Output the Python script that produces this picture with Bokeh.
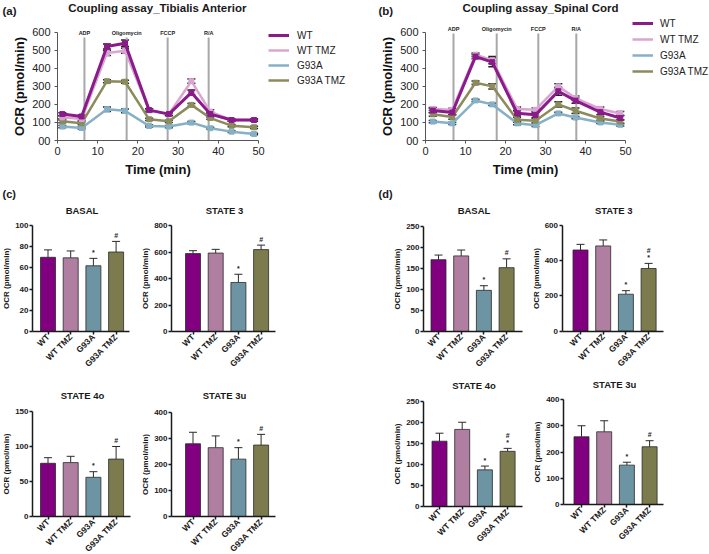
from math import pi
from bokeh.plotting import figure
from bokeh.models import (ColumnDataSource, Whisker, TeeHead, Label, LabelSet,
                          Legend, LegendItem, FixedTicker)
from bokeh.layouts import row, column
from bokeh.embed import file_html
from bokeh.resources import INLINE
from bokeh.core.properties import value

FONT = "Liberation Sans"

# ---------------- data ----------------
groups = ["WT", "WT TMZ", "G93A", "G93A TMZ"]
line_colors = ["#8B1A8B", "#D9A6D2", "#85B0C6", "#8B8B5C"]
bar_colors = ["#800080", "#B07EA0", "#6C94A2", "#7C7B4E"]

inj_labels = ["ADP", "Oligomycin", "FCCP", "R/A"]
x_ticks_line = [0, 10, 20, 30, 40, 50]
y_ticks_line = [0, 100, 200, 300, 400, 500, 600]

# (a) Tibialis Anterior
time_a = [1.2, 6.0, 12.3, 16.8, 22.8, 27.7, 33.3, 38.0, 43.3, 48.9]
inj_a = [6.7, 17.2, 27.4, 37.6]
ta_wt = [146, 133, 520, 538, 168, 146, 265, 146, 113, 113]
ta_wt_err = [8, 8, 14, 18, 8, 8, 14, 10, 6, 6]
ta_wttmz = [128, 119, 484, 496, 168, 146, 328, 160, 113, 113]
ta_wttmz_err = [8, 8, 14, 14, 8, 8, 12, 10, 6, 6]
ta_g93a = [77, 69, 173, 164, 80, 77, 99, 68, 49, 36]
ta_g93a_err = [6, 6, 12, 10, 6, 6, 6, 5, 5, 4]
ta_g93atmz = [106, 95, 328, 325, 117, 106, 197, 124, 82, 73]
ta_g93atmz_err = [8, 8, 8, 8, 6, 6, 8, 6, 6, 6]

# (b) Spinal Cord
time_b = [1.8, 6.7, 12.5, 16.7, 22.9, 27.5, 33.2, 37.5, 43.7, 48.7]
inj_b = [7.0, 17.8, 28.2, 37.7]
tb_wt = [166, 155, 465, 434, 151, 142, 273, 221, 157, 125]
tb_wt_err = [12, 12, 12, 25, 15, 15, 22, 15, 15, 12]
tb_wttmz = [175, 170, 475, 445, 175, 170, 300, 235, 175, 150]
tb_wttmz_err = [8, 8, 10, 20, 10, 10, 15, 12, 10, 10]
tb_g93a = [105, 95, 222, 200, 95, 85, 150, 127, 100, 87]
tb_g93a_err = [6, 6, 6, 6, 8, 8, 6, 6, 6, 6]
tb_g93atmz = [145, 130, 320, 300, 115, 110, 200, 165, 122, 105]
tb_g93atmz_err = [10, 12, 10, 15, 12, 12, 15, 15, 10, 10]

# (c) Tibialis Anterior bars
c_basal = [70, 69.5, 62, 75]
c_basal_err = [7, 6.5, 7, 10]
c_basal_sig = ["", "", "*", "#"]
c_state3 = [588, 592, 370, 618]
c_state3_err = [22, 28, 62, 34]
c_state3_sig = ["", "", "*", "#"]
c_state4o = [76, 77, 56, 82]
c_state4o_err = [8, 9, 8, 18]
c_state4o_sig = ["", "", "*", "#"]
c_state3u = [279, 264, 220, 274]
c_state3u_err = [44, 45, 44, 41]
c_state3u_sig = ["", "", "*", "#"]

# (d) Spinal Cord bars
d_basal = [171, 180, 98, 152]
d_basal_err = [11, 14, 11, 21]
d_basal_sig = ["", "", "*", "#"]
d_state3 = [461, 484, 210, 356]
d_state3_err = [32, 34, 20, 29]
d_state3_sig = ["", "", "*", "*#"]
d_state4o = [155, 183, 87, 131]
d_state4o_err = [19, 17, 9, 7]
d_state4o_sig = ["", "", "*", "*#"]
d_state3u = [258, 277, 150, 220]
d_state3u_err = [42, 42, 11, 23]
d_state3u_sig = ["", "", "*", "#"]


# ---------------- helpers ----------------
class Geo:
    """Linear map between canvas pixels (from top-left) and data values."""

    def __init__(self, W, H, pxa, xa, pxb, xb, pya, ya, pyb, yb):
        self.W, self.H = W, H
        self.pxa, self.xa, self.pya, self.ya = pxa, xa, pya, ya
        self.kx = (xb - xa) / (pxb - pxa)
        self.ky = (yb - ya) / (pyb - pya)

    def x(self, px):
        return self.xa + (px - self.pxa) * self.kx

    def y(self, py):
        return self.ya + (py - self.pya) * self.ky

    def xr(self):
        return (self.x(0), self.x(self.W))

    def yr(self):
        return (self.y(self.H), self.y(0))


def make_fig(g):
    p = figure(width=g.W, height=g.H, x_range=g.xr(), y_range=g.yr(), min_border=0,
               toolbar_location=None, output_backend="svg", title=None)
    p.outline_line_color = None
    p.grid.visible = False
    p.background_fill_color = "white"
    p.border_fill_color = "white"
    return p


def add_label(p, x, y, text, size, bold=True, align="center", baseline="middle"):
    p.add_layout(Label(x=x, y=y, text=text, text_font=FONT, text_font_size=size,
                       text_font_style="bold" if bold else "normal",
                       text_align=align, text_baseline=baseline, text_color="#1a1a1a"))


def line_panel(g, tag, tag_px, title, title_px, times, vals, errs, inj, inj_top_py,
               inj_lab_py, leg_px, leg_top, leg_spacing, leg_standoff):
    p = make_fig(g)
    for ax in p.axis:
        ax.axis_line_color = "#555555"
        ax.axis_line_width = 1
        ax.major_tick_line_color = "#555555"
        ax.minor_tick_line_color = None
        ax.major_tick_out = 3
        ax.major_tick_in = 0
        ax.major_label_text_font = FONT
        ax.major_label_text_font_size = "11px"
        ax.major_label_text_color = "#222222"
        ax.axis_label_text_font = FONT
        ax.axis_label_text_font_size = "13px"
        ax.axis_label_text_font_style = "bold"
        ax.axis_label_text_color = "#111111"
    p.xaxis.fixed_location = 0
    p.yaxis.fixed_location = 0
    p.xaxis.bounds = (x_ticks_line[0], x_ticks_line[-1])
    p.yaxis.bounds = (y_ticks_line[0], y_ticks_line[-1])
    p.xaxis.ticker = FixedTicker(ticks=x_ticks_line)
    p.yaxis.ticker = FixedTicker(ticks=y_ticks_line)
    p.yaxis.major_label_overrides = {0: "00"}
    p.xaxis.axis_label = "Time (min)"
    p.yaxis.axis_label = "OCR (pmol/min)"
    p.xaxis.major_label_standoff = 3
    p.xaxis.axis_label_standoff = 4
    p.yaxis.major_label_standoff = 4
    p.yaxis.axis_label_standoff = 2

    # injection markers
    top = g.y(inj_top_py)
    p.segment(x0=inj, y0=[0] * len(inj), x1=inj, y1=[top] * len(inj),
              line_color="#A8A8A8", line_width=2)
    isrc = ColumnDataSource(dict(x=inj, y=[g.y(inj_lab_py)] * len(inj), t=inj_labels))
    p.add_layout(LabelSet(x="x", y="y", text="t", source=isrc,
                          text_font=value(FONT), text_font_size=value("5.5px"),
                          text_font_style=value("bold"), text_align=value("center"),
                          text_baseline=value("middle"), text_color=value("#222222")))

    renderers = {}
    order = [2, 3, 1, 0]
    widths = [3, 2.5, 2.5, 2.5]
    for i in order:
        v = vals[i]
        e = errs[i]
        r = p.line(times, v, line_color=line_colors[i], line_width=widths[i])
        p.scatter(times, v, marker="square", size=5, fill_color=line_colors[i],
                  line_color=line_colors[i])
        src = ColumnDataSource(dict(x=times, lo=[a - b for a, b in zip(v, e)],
                                    hi=[a + b for a, b in zip(v, e)]))
        p.add_layout(Whisker(base="x", lower="lo", upper="hi", source=src,
                             line_color="#222222", line_width=1.2,
                             upper_head=TeeHead(size=8, line_color="#222222", line_width=1.5),
                             lower_head=TeeHead(size=8, line_color="#222222", line_width=1.5)))
        renderers[i] = r

    items = [LegendItem(label=groups[i], renderers=[renderers[i]]) for i in range(4)]
    n = len(items)
    lh = 12
    leg_h = n * lh + (n - 1) * leg_spacing
    leg = Legend(items=items, location=(leg_px, g.H - (leg_top + leg_h)),
                 padding=0, margin=0, spacing=leg_spacing, label_height=lh,
                 glyph_height=lh, glyph_width=21, label_standoff=leg_standoff,
                 label_text_font=FONT, label_text_font_size="10px",
                 label_text_color="#222222", border_line_color=None,
                 background_fill_alpha=0)
    p.add_layout(leg)

    add_label(p, g.x(tag_px[0]), g.y(tag_px[1]), tag, "11.5px", align="left")
    add_label(p, g.x(title_px[0]), g.y(title_px[1]), title, "11.5px")
    return p


SPACING = 22.7


def bar_panel(W, H, ax_px, first_px, end_px, y0_py, ytop_py, title, title_py,
              y_ticks, vals, errs, sig, tag=None, tag_px=None):
    xs = list(range(1, len(groups) + 1))
    g = Geo(W, H, first_px, 1, first_px + SPACING, 2, y0_py, 0, ytop_py, y_ticks[-1])
    p = make_fig(g)
    p.vbar(x=xs, top=vals, width=15 / SPACING, fill_color=bar_colors,
           line_color="#2a2a2a", line_width=0.8)
    hi = [a + b for a, b in zip(vals, errs)]
    src = ColumnDataSource(dict(x=xs, lo=vals, hi=hi))
    p.add_layout(Whisker(base="x", lower="lo", upper="hi", source=src,
                         line_color="#2a2a2a", line_width=1,
                         upper_head=TeeHead(size=8, line_color="#2a2a2a", line_width=1),
                         lower_head=None))
    sx, sy, st, so = [], [], [], []
    for i, s in enumerate(sig):
        for k, ch in enumerate(s):
            sx.append(xs[i])
            sy.append(hi[i])
            st.append(ch)
            so.append(-(6 + 7 * k))
    p.text(x=sx, y=sy, text=st, y_offset=so, text_font=value(FONT),
           text_font_size="7px", text_font_style="bold", text_align="center",
           text_baseline="middle", text_color="#222222")

    for ax in p.axis:
        ax.axis_line_color = "#1a1a1a"
        ax.axis_line_width = 1.5
        ax.major_tick_line_color = "#1a1a1a"
        ax.major_tick_line_width = 1.5
        ax.minor_tick_line_color = None
        ax.major_tick_out = 3
        ax.major_tick_in = 0
        ax.major_label_text_font = FONT
        ax.major_label_text_font_size = "8px"
        ax.major_label_text_font_style = "bold"
        ax.major_label_text_color = "#1a1a1a"
        ax.axis_label_text_font = FONT
        ax.axis_label_text_font_size = "8px"
        ax.axis_label_text_font_style = "bold"
        ax.axis_label_text_color = "#1a1a1a"
    x_ax = g.x(ax_px)
    p.yaxis.fixed_location = x_ax
    p.xaxis.fixed_location = 0
    p.yaxis.bounds = (0, y_ticks[-1])
    p.xaxis.bounds = (x_ax, g.x(end_px))
    p.yaxis.ticker = FixedTicker(ticks=y_ticks)
    p.yaxis.axis_label = "OCR (pmol/min)"
    p.yaxis.major_label_standoff = 1
    p.yaxis.axis_label_standoff = 1
    p.xaxis.ticker = FixedTicker(ticks=xs)
    p.xaxis.major_label_overrides = {x: grp for x, grp in zip(xs, groups)}
    p.xaxis.major_label_orientation = pi / 4
    p.xaxis.major_label_standoff = 1
    p.xaxis.major_label_text_font_size = "8.5px"

    add_label(p, g.x((ax_px + end_px) / 2 + 1), g.y(title_py), title, "9.5px")
    if tag:
        add_label(p, g.x(tag_px[0]), g.y(tag_px[1]), tag, "11px", align="left")
    return p


# ---------------- panels ----------------
ga = Geo(355, 180, 57, 0, 258, 50, 140, 0, 31.5, 600)
fa = line_panel(ga, "(a)", (2, 10), "Coupling assay_Tibialis Anterior", (157, 7),
                time_a, [ta_wt, ta_wttmz, ta_g93a, ta_g93atmz],
                [ta_wt_err, ta_wttmz_err, ta_g93a_err, ta_g93atmz_err],
                inj_a, 37, 32, 268, 29, 3, 8)
gb = Geo(354, 180, 70, 0, 270, 50, 140, 0, 31.7, 600)
fb = line_panel(gb, "(b)", (23, 10), "Coupling assay_Spinal Cord", (185, 7.5),
                time_b, [tb_wt, tb_wttmz, tb_g93a, tb_g93atmz],
                [tb_wt_err, tb_wttmz_err, tb_g93a_err, tb_g93atmz_err],
                inj_b, 33, 28, 277, 17, 4, 7)

# row 2 (canvas top at page y=180, height 190)
c1 = bar_panel(140, 190, 32, 47.5, 129, 151, 45, "BASAL", 29.5,
               [0, 20, 40, 60, 80, 100], c_basal, c_basal_err, c_basal_sig, "(c)", (2, 13))
c2 = bar_panel(215, 190, 31, 52.5, 135, 151, 45, "STATE 3", 29.5,
               [0, 200, 400, 600, 800], c_state3, c_state3_err, c_state3_sig)
d1 = bar_panel(175, 190, 68, 83, 167, 151, 46, "BASAL", 29.5,
               [0, 50, 100, 150, 200, 250], d_basal, d_basal_err, d_basal_sig, "(d)", (23, 13))
d2 = bar_panel(179, 190, 31.5, 50, 133, 150.7, 45, "STATE 3", 29.5,
               [0, 200, 400, 600], d_state3, d_state3_err, d_state3_sig)

# row 3 (canvas top at page y=370, height 184)
c3 = bar_panel(140, 184, 32, 47.5, 130, 146, 41, "STATE 4o", 25,
               [0, 50, 100, 150], c_state4o, c_state4o_err, c_state4o_sig)
c4 = bar_panel(215, 184, 31, 52.5, 135, 146, 41.7, "STATE 3u", 25,
               [0, 100, 200, 300, 400], c_state3u, c_state3u_err, c_state3u_sig)
d3 = bar_panel(175, 184, 68, 84, 167, 136, 30.7, "STATE 4o", 14.5,
               [0, 50, 100, 150, 200, 250], d_state4o, d_state4o_err, d_state4o_sig)
d4 = bar_panel(179, 184, 33, 51, 133, 134, 29, "STATE 3u", 13.5,
               [0, 100, 200, 300, 400], d_state3u, d_state3u_err, d_state3u_sig)

layout = column(row(fa, fb), row(c1, c2, d1, d2), row(c3, c4, d3, d4))

open("out.html", "w").write(file_html(layout, INLINE))
